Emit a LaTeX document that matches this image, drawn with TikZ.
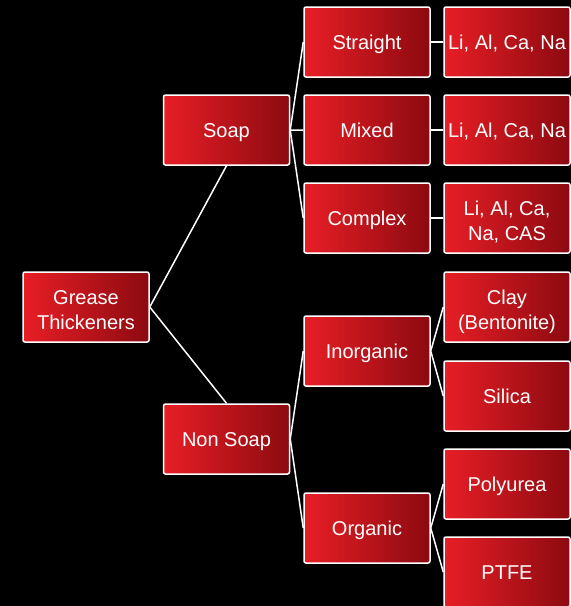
\documentclass[tikz,border=0pt]{standalone}
\usepackage{fontspec}
\setmainfont{Liberation Sans}
\usetikzlibrary{backgrounds}
\definecolor{boxleft}{RGB}{232,30,38}
\definecolor{boxright}{RGB}{140,10,16}

\begin{document}
\begin{tikzpicture}[x=1pt,y=-1pt]
    % `branch' is used for every red box of the tree.
    % `twoline' lowers the text of boxes with two lines a bit.
    % `link' is used for the white connector lines.
    \tikzstyle{branch} = [draw=white,line width=1.5pt,rounded corners=2pt,
      left color=boxleft,right color=boxright,text=white,align=center,
      minimum width=126pt,minimum height=70pt,inner sep=0pt,
      text height=15pt,text depth=1pt,
      font=\fontsize{20}{25}\selectfont]
    \tikzstyle{twoline} = [text height=46pt]
    \tikzstyle{link} = [draw=white,line width=1.5pt]
    \useasboundingbox (0,0) rectangle (571,606);
    %
    \node[branch,twoline] (grease) at (86,307) {Grease\\Thickeners};
    \node[branch] (soap) at (226.5,130) {Soap};
    \node[branch] (nonsoap) at (226.5,439) {Non Soap};
    %
    \node[branch] (straight) at (367,42) {Straight};
    \node[branch] (mixed) at (367,130) {Mixed};
    \node[branch] (complex) at (367,218) {Complex};
    \node[branch] (inorganic) at (367,351) {Inorganic};
    \node[branch] (organic) at (367,528) {Organic};
    %
    \node[branch] (straightmet) at (507,42) {Li, Al, Ca, Na};
    \node[branch] (mixedmet) at (507,130) {Li, Al, Ca, Na};
    \node[branch,twoline] (complexmet) at (507,218) {Li, Al, Ca,\\Na, CAS};
    \node[branch,twoline] (clay) at (507,307) {Clay\\(Bentonite)};
    \node[branch] (silica) at (507,396) {Silica};
    \node[branch] (polyurea) at (507,484) {Polyurea};
    \node[branch] (ptfe) at (507,572) {PTFE};
  \begin{pgfonlayer}{background}
        % Draw black background.
    \fill[black] (0,0) rectangle (571,606);
        % Draw lines.
    \draw[link] (grease.east) -- (soap.south)  (grease.east) -- (nonsoap.north);
    \draw[link] (soap.east) -- (straight.west)  (soap.east) -- (mixed.west)
      (soap.east) -- (complex.west);
    \draw[link] (nonsoap.east) -- (inorganic.west)  (nonsoap.east) -- (organic.west);
    \draw[link] (straight) -- (straightmet)  (mixed) -- (mixedmet)
      (complex) -- (complexmet);
    \draw[link] (inorganic.east) -- (clay.west)  (inorganic.east) -- (silica.west);
    \draw[link] (organic.east) -- (polyurea.west)  (organic.east) -- (ptfe.west);
  \end{pgfonlayer}
\end{tikzpicture}
\end{document}
